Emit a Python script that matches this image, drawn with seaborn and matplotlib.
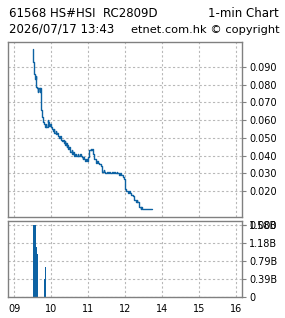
import matplotlib
matplotlib.use("Agg")
import matplotlib.pyplot as plt
import seaborn as sns
import pandas as pd

# ---- data ----
title_left = "61568 HS#HSI  RC2809D"
title_right = "1-min Chart"
stamp = "2026/07/17 13:43"
source = "etnet.com.hk \u00a9 copyright"

# trading minutes after 09:00 (lunch removed), price change points
price_minutes = [30, 31, 32, 33, 34, 35, 36, 37, 38, 39, 41, 42, 43, 44, 45, 46, 47, 49,
                 50, 51, 52, 54, 55, 57, 58, 59, 61, 63, 64, 65, 67, 68, 70, 71, 73, 75,
                 76, 78, 79, 80, 82, 83, 84, 85, 86, 87, 89, 90, 91, 93, 94, 96, 97, 99,
                 100, 103, 104, 106, 108, 110, 111, 112, 113, 115, 117, 118, 120, 121, 122,
                 124, 125, 126, 127, 128, 129, 130, 132, 134, 136, 138, 140, 142, 143, 145,
                 146, 148, 150, 152, 154, 156, 158, 160, 162, 164, 166, 167, 170, 172, 174,
                 176, 178, 179, 180, 182, 185, 187, 188, 190, 192, 194, 197, 199, 200, 202,
                 203, 205, 206, 207, 223]
prices = [0.100, 0.093, 0.086, 0.085, 0.083, 0.085, 0.079, 0.078, 0.076, 0.078, 0.076, 0.078,
          0.075, 0.066, 0.062, 0.061, 0.059, 0.058,
          0.056, 0.058, 0.056, 0.060, 0.059, 0.057, 0.058, 0.056, 0.055, 0.054, 0.055, 0.053,
          0.054, 0.052, 0.053, 0.051, 0.050, 0.051,
          0.049, 0.048, 0.049, 0.047, 0.048, 0.046, 0.047, 0.045, 0.046, 0.044, 0.045, 0.043,
          0.042, 0.043, 0.041, 0.042, 0.040, 0.041,
          0.040, 0.041, 0.040, 0.041, 0.040, 0.039, 0.038, 0.039, 0.038, 0.037, 0.038, 0.037,
          0.039, 0.041, 0.043,
          0.044, 0.043, 0.044, 0.042, 0.041, 0.039, 0.038, 0.036, 0.037, 0.036, 0.035, 0.034,
          0.033, 0.031, 0.032,
          0.031, 0.030, 0.031, 0.030, 0.031, 0.030, 0.031, 0.030, 0.031, 0.030, 0.031, 0.030,
          0.029, 0.030, 0.029,
          0.028, 0.027, 0.023, 0.021, 0.020, 0.019, 0.020, 0.019, 0.018, 0.017, 0.015, 0.014,
          0.015, 0.014, 0.013,
          0.011, 0.010, 0.011, 0.010, 0.010]

vol_minutes = [30, 31, 32, 33, 34, 35, 36, 37, 48, 50]
volumes = [1.58e9, 1.58e9, 1.58e9, 1.58e9, 1.10e9, 1.10e9, 0.94e9, 0.94e9, 0.41e9, 0.67e9]

x_ticks = [0, 60, 120, 180, 240, 300, 360]
x_labels = ["09", "10", "11", "12", "14", "15", "16"]
price_ticks = [0.020, 0.030, 0.040, 0.050, 0.060, 0.070, 0.080, 0.090]
price_labels = ["0.020", "0.030", "0.040", "0.050", "0.060", "0.070", "0.080", "0.090"]
vol_ticks = [0, 0.395e9, 0.79e9, 1.185e9, 1.58e9]
vol_labels = ["0", "0.39B", "0.79B", "1.18B", "1.58B"]
vol_overlay_label = "0.000"

# ---- style ----
sns.set_theme(style="white")
plt.rcParams["font.family"] = ["DejaVu Sans"]
plt.rcParams["text.color"] = "black"

blue = "#0d62a3"
frame = "#808080"
gridc = "#b8b8b8"

W, H = 285, 318
fig = plt.figure(figsize=(W / 100, H / 100), dpi=100)
fig.patch.set_facecolor("white")

ax1 = fig.add_axes([8.3 / W, (H - 216.7) / H, 233.7 / W, 174.4 / H])
ax2 = fig.add_axes([8.3 / W, (H - 297.3) / H, 233.7 / W, 76.6 / H])

df = pd.DataFrame({"minute": price_minutes, "price": prices})
sns.lineplot(data=df, x="minute", y="price", drawstyle="steps-post", color=blue,
             linewidth=1.0, ax=ax1)
ax2.bar(vol_minutes, volumes, width=1.7, align="edge", color=blue, linewidth=0)

xlim = (-9.7, 369.7)
for ax in (ax1, ax2):
    ax.set_xlim(*xlim)
    ax.set_xticks(x_ticks)
    ax.set_xlabel("")
    ax.set_ylabel("")
    ax.yaxis.tick_right()
    for s in ax.spines.values():
        s.set_color(frame)
        s.set_linewidth(1.0)
    ax.grid(True, color=gridc, linestyle=(0, (2, 2)), linewidth=0.8)
    ax.set_axisbelow(True)
    ax.tick_params(which="both", direction="out", length=3, width=0.8, color=frame,
                   pad=2, labelsize=7, labelcolor="black")

ax1.set_ylim(0.0055, 0.104)
ax1.set_yticks(price_ticks)
ax1.set_yticklabels(price_labels)
ax1.set_xticklabels([])
ax1.tick_params(axis="x", length=0)

ax2.set_ylim(0, 1.673e9)
ax2.yaxis.remove_overlapping_locs = False
ax2.set_yticks(vol_ticks)
ax2.set_yticklabels(vol_labels)
ax2.set_yticks([vol_ticks[-1]], minor=True)
ax2.set_yticklabels([vol_overlay_label], minor=True)
ax2.set_xticklabels(x_labels)
ax2.tick_params(axis="x", length=2, pad=3)

fs = 8.5
fig.text(9 / W, 1 - 16.7 / H, title_left, fontsize=fs, va="baseline", ha="left", color="black")
fig.text(279 / W, 1 - 16.7 / H, title_right, fontsize=fs, va="baseline", ha="right", color="black")
fig.text(9 / W, 1 - 32.7 / H, stamp, fontsize=fs, va="baseline", ha="left", color="black")
fig.text(280 / W, 1 - 32.7 / H, source, fontsize=8.2, va="baseline", ha="right", color="black")

fig.savefig("out.png", dpi=100, facecolor="white")
